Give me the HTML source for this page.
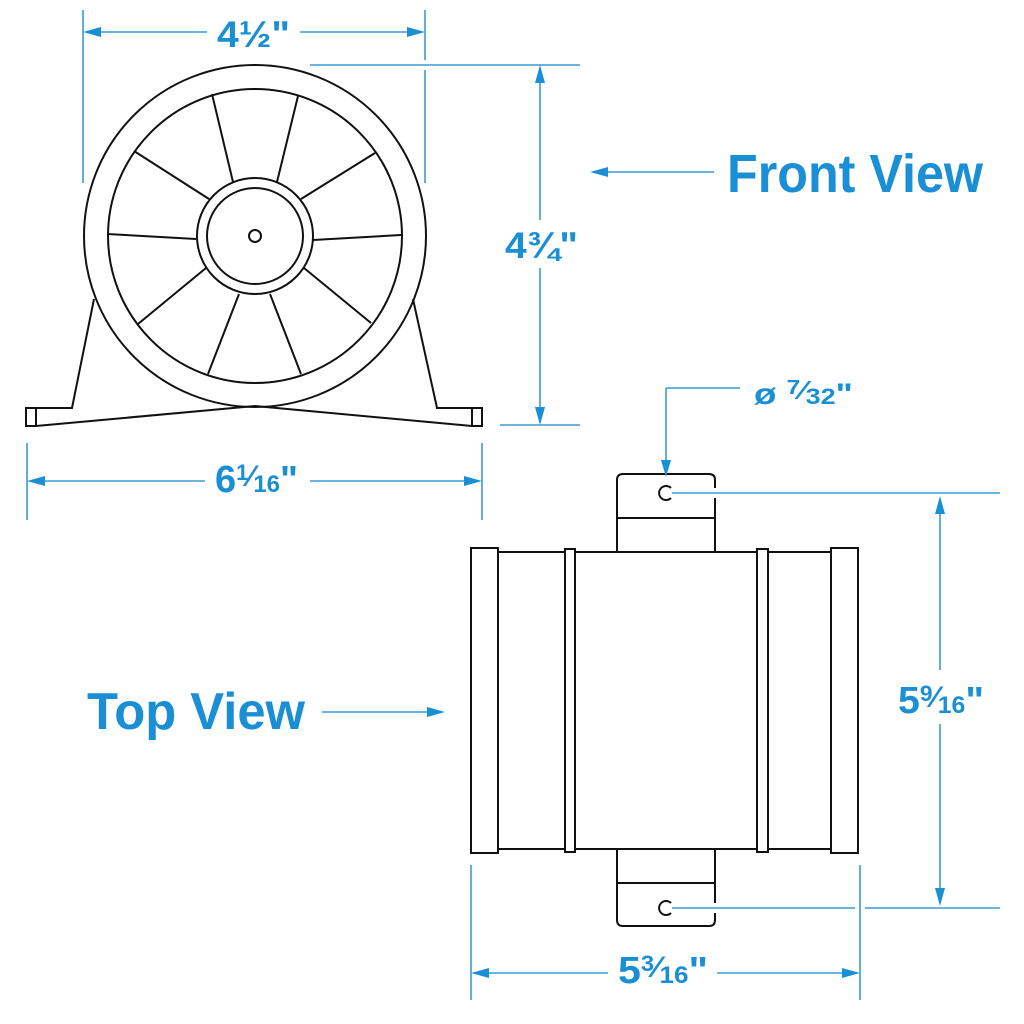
<!DOCTYPE html>
<html><head><meta charset="utf-8"><style>
html,body{margin:0;padding:0;background:#fff;}
svg{display:block;}
.k{stroke:#111;stroke-width:2;fill:none;}
.b{stroke:#3a9bd5;stroke-width:1.6;fill:none;}
.t{font-family:"Liberation Sans",sans-serif;font-weight:bold;fill:#1a8fd6;}
.ah{fill:#1a8fd6;}
</style></head><body>
<svg width="1024" height="1024" viewBox="0 0 1024 1024" xmlns="http://www.w3.org/2000/svg">
<!-- FRONT VIEW -->
<g class="k">
<circle cx="255" cy="236" r="171"/>
<circle cx="255" cy="236" r="147"/>
<circle cx="255" cy="236" r="58"/>
<circle cx="255" cy="236" r="48"/>
<circle cx="255" cy="236" r="6"/>
<line x1="212" y1="94" x2="233" y2="182"/>
<line x1="298" y1="96" x2="277" y2="182"/>
<line x1="134" y1="151" x2="209" y2="199"/>
<line x1="375" y1="153" x2="301" y2="199"/>
<line x1="107" y1="234" x2="196" y2="239"/>
<line x1="401" y1="235" x2="313" y2="240"/>
<line x1="138" y1="324" x2="206" y2="268"/>
<line x1="371" y1="323" x2="304" y2="268"/>
<line x1="208" y1="374" x2="239" y2="294"/>
<line x1="301" y1="374" x2="270" y2="294"/>
<polyline points="94,299 72,408 26,408 26,426 36,426 255,406 472,426 482,426 482,408 437,408 413,299"/>
<line x1="36" y1="408" x2="36" y2="426"/>
<line x1="472" y1="408" x2="472" y2="426"/>
</g>
<!-- front dims -->
<g class="b">
<line x1="83" y1="10" x2="83" y2="183"/>
<line x1="425" y1="10" x2="425" y2="60"/>
<line x1="425" y1="70" x2="425" y2="183"/>
<line x1="95" y1="32" x2="207" y2="32"/>
<line x1="300" y1="32" x2="413" y2="32"/>
<line x1="310" y1="65" x2="580" y2="65"/>
<line x1="500" y1="425" x2="580" y2="425"/>
<line x1="540" y1="77" x2="540" y2="220"/>
<line x1="540" y1="268" x2="540" y2="413"/>
<line x1="27" y1="443" x2="27" y2="520"/>
<line x1="482" y1="443" x2="482" y2="520"/>
<line x1="39" y1="481" x2="205" y2="481"/>
<line x1="310" y1="481" x2="470" y2="481"/>
<line x1="600" y1="172" x2="714" y2="172"/>
</g>
<g class="ah">
<polygon points="83,32 101,27 101,37"/>
<polygon points="425,32 407,27 407,37"/>
<polygon points="540,65 535,83 545,83"/>
<polygon points="540,425 535,407 545,407"/>
<polygon points="27,481 45,476 45,486"/>
<polygon points="482,481 464,476 464,486"/>
<polygon points="590,172 608,167 608,177"/>
</g>
<text class="t" x="217" y="47" font-size="37" textLength="73" lengthAdjust="spacingAndGlyphs">4½"</text>
<text class="t" x="505" y="258" font-size="37" textLength="73" lengthAdjust="spacingAndGlyphs">4¾"</text>
<text class="t" x="215" y="492" font-size="38" textLength="83" lengthAdjust="spacingAndGlyphs">6<tspan font-size="22" dy="-12">1</tspan><tspan font-size="30" dy="6">⁄</tspan><tspan font-size="24" dy="6">16</tspan><tspan dy="0">"</tspan></text>
<text class="t" x="727" y="192" font-size="54" textLength="256" lengthAdjust="spacingAndGlyphs">Front View</text>

<!-- TOP VIEW -->
<g class="k">
<rect x="471" y="548" width="27" height="305"/>
<rect x="831" y="548" width="27" height="305"/>
<rect x="565" y="549" width="10" height="303"/>
<rect x="757" y="549" width="11" height="303"/>
<line x1="498" y1="552" x2="565" y2="552"/>
<line x1="575" y1="552" x2="757" y2="552"/>
<line x1="768" y1="552" x2="831" y2="552"/>
<line x1="498" y1="849" x2="565" y2="849"/>
<line x1="575" y1="849" x2="757" y2="849"/>
<line x1="768" y1="849" x2="831" y2="849"/>
<path d="M617,552 L617,480 Q617,474 623,474 L709,474 Q715,474 715,480 L715,488 M715,498 L715,552"/>
<line x1="617" y1="518" x2="715" y2="518"/>
<path d="M617,849 L617,920 Q617,926 623,926 L709,926 Q715,926 715,920 L715,913 M715,903 L715,849"/>
<line x1="617" y1="883" x2="715" y2="883"/>
<path d="M671,488 A7,7 0 1 0 671,498"/>
<path d="M671,903 A7,7 0 1 0 671,913"/>
</g>
<g class="b">
<line x1="666" y1="388" x2="740" y2="388"/>
<line x1="666" y1="388" x2="666" y2="465"/>
<line x1="672" y1="493" x2="1000" y2="493"/>
<line x1="672" y1="908" x2="855" y2="908"/>
<line x1="865" y1="908" x2="1000" y2="908"/>
<line x1="940" y1="510" x2="940" y2="670"/>
<line x1="940" y1="724" x2="940" y2="892"/>
<line x1="471" y1="865" x2="471" y2="1000"/>
<line x1="860" y1="865" x2="860" y2="1000"/>
<line x1="485" y1="973" x2="608" y2="973"/>
<line x1="717" y1="973" x2="846" y2="973"/>
<line x1="322" y1="712" x2="430" y2="712"/>
</g>
<g class="ah">
<polygon points="666,477 661,460 671,460"/>
<polygon points="940,496 935,514 945,514"/>
<polygon points="940,906 935,888 945,888"/>
<polygon points="471,973 489,968 489,978"/>
<polygon points="860,973 842,968 842,978"/>
<polygon points="445,712 427,707 427,717"/>
</g>
<text class="t" x="754" y="404" font-size="30" textLength="99" lengthAdjust="spacingAndGlyphs">ø <tspan font-size="20" dy="-10">7</tspan><tspan font-size="26" dy="5">⁄</tspan><tspan font-size="22" dy="5">32</tspan><tspan dy="0">"</tspan></text>
<text class="t" x="898" y="713" font-size="38" textLength="86" lengthAdjust="spacingAndGlyphs">5<tspan font-size="22" dy="-12">9</tspan><tspan font-size="30" dy="6">⁄</tspan><tspan font-size="24" dy="6">16</tspan><tspan dy="0">"</tspan></text>
<text class="t" x="618" y="983" font-size="38" textLength="90" lengthAdjust="spacingAndGlyphs">5<tspan font-size="22" dy="-12">3</tspan><tspan font-size="30" dy="6">⁄</tspan><tspan font-size="24" dy="6">16</tspan><tspan dy="0">"</tspan></text>
<text class="t" x="87" y="729" font-size="52" textLength="218" lengthAdjust="spacingAndGlyphs">Top View</text>
</svg>
</body></html>
